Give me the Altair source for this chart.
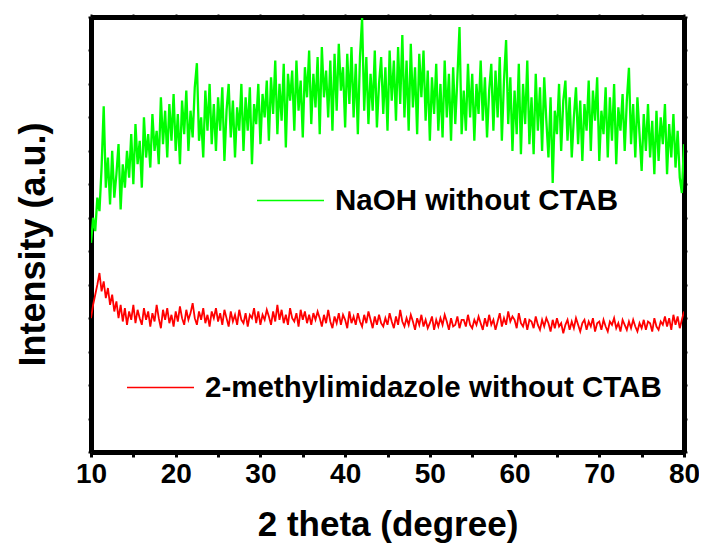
import altair as alt
import pandas as pd

# 2-theta scan grid (degrees)
two_theta = [round(10 + 0.25 * i, 2) for i in range(281)]

# NaOH without CTAB (intensity, a.u.)
naoh = [
    625, 700, 660, 760,
    720, 850, 1033, 790,
    880, 740, 900, 760,
    830, 920, 725, 860,
    790, 900, 820, 950,
    800, 980, 860, 930,
    790, 1000, 880, 950,
    850, 1010, 900, 960,
    860, 1060, 920, 1020,
    880, 1040, 930, 1070,
    900, 1010, 860, 1050,
    950, 1080, 900, 1020,
    940, 1090, 1162, 930,
    1000, 880, 1080, 960,
    1100, 920, 1040, 900,
    1060, 960, 1090, 870,
    1020, 1100, 940, 1050,
    880, 1030, 960, 1100,
    900, 1060, 960, 1090,
    860, 1040, 980, 1100,
    920, 1070, 1000, 1110,
    930, 1120, 1010, 1170,
    950, 1100, 990, 1160,
    910, 1130, 1050, 1140,
    960, 1170, 1020, 1110,
    940, 1150, 1060, 1200,
    980, 1130, 1030, 1180,
    950, 1210, 1060, 1140,
    1000, 1170, 960, 1190,
    1020, 1220, 1080, 1150,
    970, 1190, 1040, 1210,
    1000, 1160, 950, 1180,
    1297, 1020, 1180, 980,
    1130, 1020, 1200, 970,
    1100, 1180, 1010, 1150,
    960, 1200, 1050, 1170,
    990, 1210, 1040, 1246,
    1000, 1170, 960, 1220,
    1030, 1150, 950, 1190,
    1060, 1200, 990, 1140,
    930, 1120, 1010, 1160,
    960, 1100, 940, 1170,
    1000, 1130, 930, 1150,
    980, 1120, 1270, 950,
    1080, 960, 1160, 1000,
    1130, 930, 1100, 1010,
    1170, 990, 1120, 940,
    1080, 1160, 960, 1140,
    1000, 1180, 930, 1110,
    1231, 980, 1120, 900,
    1080, 950, 1160, 890,
    1100, 980, 1170, 920,
    1060, 890, 1130, 960,
    1090, 900, 1120, 990,
    880, 1060, 804, 1020,
    950, 1100, 900, 1050,
    1110, 930, 1060, 880,
    1000, 1090, 920, 1050,
    870, 1040, 960, 1110,
    900, 1080, 990, 1120,
    870, 1020, 950, 1090,
    880, 1060, 930, 1100,
    860, 1030, 960, 1070,
    900, 1050, 1148, 920,
    1040, 880, 1060, 950,
    840, 1010, 900, 1040,
    880, 990, 830, 1020,
    870, 1000, 920, 1040,
    830, 980, 880, 1010,
    850, 960, 820, 774,
    920,
]

# 2-methylimidazole without CTAB (intensity, a.u.)
mim = [
    400, 440, 470, 500,
    535, 480, 510, 460,
    490, 440, 470, 420,
    450, 400, 440, 390,
    430, 380, 420, 395,
    440, 385, 425, 400,
    380, 430, 395, 420,
    375, 415, 390, 440,
    400, 370, 425, 395,
    430, 385, 410, 375,
    420, 390, 435, 400,
    380, 425, 395, 415,
    445, 400, 380, 420,
    395, 430, 385, 410,
    375, 420, 400, 430,
    390, 415, 380, 425,
    400, 375, 420, 390,
    410, 380, 425, 395,
    385, 415, 375, 410,
    400, 430, 385, 420,
    380, 410, 395, 425,
    405, 380, 420, 390,
    440, 395, 425, 385,
    410, 380, 430, 400,
    390, 415, 375, 425,
    395, 420, 385, 410,
    380, 415, 395, 420,
    400, 375, 410, 385,
    425, 390, 370, 405,
    385, 415, 380, 410,
    395, 370, 420, 385,
    405, 380, 415, 390,
    375, 410, 385, 420,
    395, 370, 405, 380,
    410, 385, 375, 400,
    380, 415, 390, 370,
    405, 380, 425, 390,
    375, 400, 380, 410,
    390, 365, 400, 380,
    410, 375, 395, 370,
    385, 405, 365, 395,
    375, 400, 380, 410,
    390, 365, 400, 375,
    380, 405, 370, 395,
    395, 375, 410, 380,
    370, 395, 380, 405,
    385, 365, 400, 375,
    410, 380, 395, 365,
    390, 415, 375, 400,
    380, 420, 390, 405,
    395, 370, 415, 385,
    375, 400, 365, 395,
    390, 370, 405, 380,
    365, 395, 375, 400,
    385, 360, 395, 370,
    400, 375, 385, 355,
    380, 395, 365, 390,
    370, 400, 380, 360,
    385, 395, 365, 390,
    375, 400, 360, 385,
    390, 365, 395, 375,
    360, 390, 380, 400,
    370, 385, 360, 395,
    380, 365, 390, 370,
    395, 375, 360, 385,
    370, 395, 365, 390,
    385, 360, 400, 375,
    365, 390, 380, 405,
    375, 400, 365, 410,
    380, 405, 370, 395,
    420,
]

series_names = ["NaOH without CTAB", "2-methylimidazole without CTAB"]
series_colors = ["#00FF00", "#FF0000"]
x_ticks = list(range(10, 81, 5))
y_ticks = list(range(0, 1301, 100))

df_naoh = pd.DataFrame({"theta": two_theta, "intensity": naoh, "series": series_names[0]})
df_mim = pd.DataFrame({"theta": two_theta, "intensity": mim, "series": series_names[1]})

FONT = "Liberation Sans"

xscale = alt.Scale(domain=[10, 80], nice=False, zero=False)
yscale = alt.Scale(domain=[0, 1300], nice=False, zero=False)

common_axis = dict(
    domainColor="black", domainWidth=5, tickColor="black", grid=False,
)

legend_common = dict(
    orient="none", title=None, symbolType="stroke", symbolSize=4489,
    symbolStrokeWidth=1.5, labelFont=FONT, labelFontSize=29.5,
    labelFontWeight="bold", labelColor="black", labelLimit=700,
    labelOffset=10, padding=0,
)

green = alt.Chart(df_naoh).mark_line(strokeWidth=2.3, clip=True).encode(
    x=alt.X("theta:Q", scale=xscale, axis=alt.Axis(
        orient="bottom", values=x_ticks,
        labelExpr="datum.value % 10 === 0 ? datum.label : ''",
        labelFlush=False, labelOverlap=False,
        labelFont=FONT, labelFontSize=28, labelFontWeight="bold", labelColor="black",
        labelPadding=3, tickSize=5, tickWidth=3,
        title="2 theta (degree)", titleFont=FONT, titleFontSize=35,
        titleFontWeight="bold", titleColor="black",
        titleY=72, titleBaseline="middle",
        **common_axis)),
    y=alt.Y("intensity:Q", scale=yscale, axis=alt.Axis(
        orient="left", values=y_ticks, labels=False, tickSize=3, tickWidth=2,
        title="Intensity (a.u.)", titleFont=FONT, titleFontSize=36,
        titleFontWeight="bold", titleColor="black",
        titleX=-58, titleY=227, titleAngle=270, titleAlign="center",
        titleBaseline="middle",
        **common_axis)),
    color=alt.Color("series:N", scale=alt.Scale(domain=[series_names[0]], range=[series_colors[0]]),
                    legend=alt.Legend(legendX=165, legendY=149, **legend_common)),
)

red = alt.Chart(df_mim).mark_line(strokeWidth=1.8, clip=True).encode(
    x=alt.X("theta:Q", scale=xscale, axis=alt.Axis(
        orient="top", values=x_ticks, labels=False, tickSize=3, tickWidth=2,
        title=None, **common_axis)),
    y=alt.Y("intensity:Q", scale=yscale, axis=alt.Axis(
        orient="right", values=y_ticks, labels=False, tickSize=3, tickWidth=2,
        title=None, **common_axis)),
    color=alt.Color("series:N", scale=alt.Scale(domain=[series_names[1]], range=[series_colors[1]]),
                    legend=alt.Legend(legendX=35, legendY=336, **legend_common)),
)

chart = alt.layer(green, red).resolve_scale(color="independent").resolve_axis(
    x="independent", y="independent"
).resolve_legend(color="independent").properties(
    width=593, height=435,
    padding={"left": 83, "top": 9, "right": 15, "bottom": 100},
    autosize=alt.AutoSizeParams(type="none"),
).configure_view(stroke="black", strokeWidth=5).configure_axis(
    domainWidth=5, domainColor="black").configure(background="white")

chart.save("out.html", embed_options={"renderer": "svg", "actions": False})
